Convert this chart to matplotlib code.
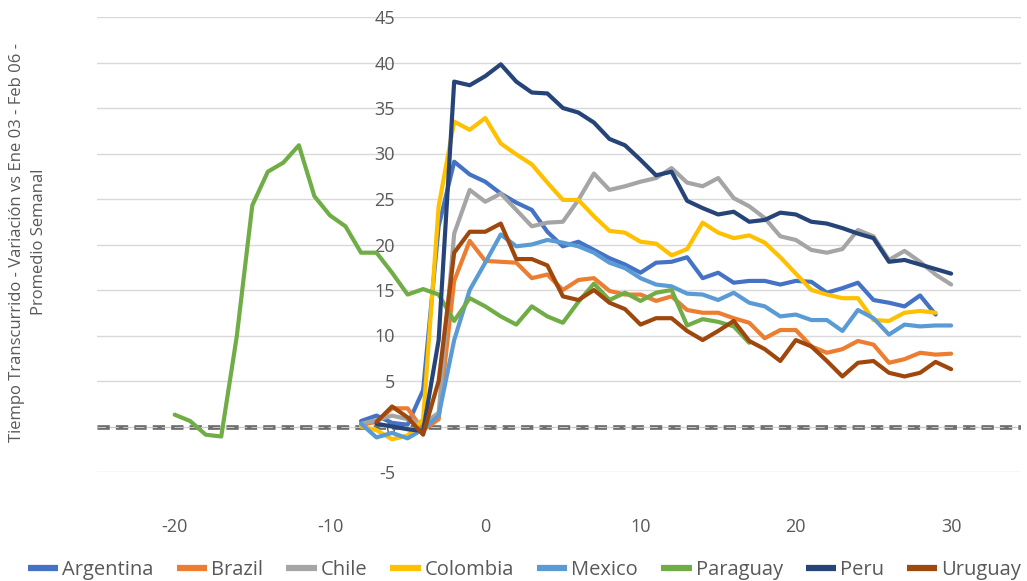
import matplotlib.pyplot as plt
import numpy as np

plt.rcParams['font.family'] = ['Open Sans', 'DejaVu Sans']
plt.rcParams['axes.unicode_minus'] = False

# weekly values, week 0 = reference week
weeks_main = list(range(-8, 31))
weeks_uy = list(range(-7, 31))
weeks_pe = list(range(-7, 31))
weeks_py = list(range(-20, 18))

argentina = [0.6, 1.2, 0.4, 0.2, 4.0, 22.0, 29.1, 27.7, 26.9, 25.6, 24.6, 23.8, 21.4,
             19.8, 20.3, 19.4, 18.5, 17.8, 16.9, 18.0, 18.1, 18.6, 16.3, 16.9, 15.8,
             16.0, 16.0, 15.6, 16.0, 15.9, 14.7, 15.2, 15.8, 13.9, 13.6, 13.2, 14.4, 12.3]
brazil = [0.2, 0.5, 2.0, 2.0, -0.4, 0.8, 16.0, 20.4, 18.2, 18.1, 18.0, 16.3, 16.7,
          15.0, 16.1, 16.3, 14.9, 14.5, 14.5, 13.8, 14.3, 12.8, 12.5, 12.5, 11.9,
          11.4, 9.7, 10.6, 10.6, 8.8, 8.1, 8.5, 9.4, 9.0, 7.0, 7.4, 8.1, 7.9, 8.0]
chile = [0.3, 0.7, 1.2, 0.8, 0.3, 1.5, 21.2, 26.0, 24.7, 25.6, 23.8, 22.0, 22.4,
         22.5, 24.9, 27.8, 26.0, 26.4, 26.9, 27.3, 28.4, 26.8, 26.4, 27.3, 25.1,
         24.2, 22.9, 20.9, 20.5, 19.4, 19.1, 19.5, 21.6, 20.9, 18.3, 19.3, 18.1,
         16.7, 15.6]
colombia = [0.0, -0.4, -1.4, -1.0, 0.8, 24.2, 33.5, 32.6, 33.9, 31.1, 29.9, 28.8,
            26.8, 24.9, 24.9, 23.1, 21.5, 21.3, 20.3, 20.1, 18.8, 19.5, 22.4, 21.3,
            20.7, 21.0, 20.2, 18.6, 16.8, 15.0, 14.5, 14.1, 14.1, 11.7, 11.6, 12.5,
            12.7, 12.5]
mexico = [0.3, -1.2, -0.7, -1.3, -0.3, 1.2, 9.5, 15.0, 18.0, 21.1, 19.8, 20.0, 20.5,
          20.2, 19.8, 19.1, 18.0, 17.4, 16.3, 15.6, 15.4, 14.6, 14.5, 13.9, 14.7,
          13.6, 13.2, 12.1, 12.3, 11.7, 11.7, 10.5, 12.8, 11.9, 10.1, 11.2, 11.0,
          11.1, 11.1]
paraguay = [1.3, 0.6, -0.9, -1.1, 9.9, 24.3, 28.0, 29.0, 30.9, 25.3, 23.2, 22.0,
            19.1, 19.1, 16.9, 14.5, 15.1, 14.5, 11.6, 14.1, 13.2, 12.1, 11.2, 13.2,
            12.1, 11.4, 13.7, 15.7, 13.9, 14.7, 13.8, 14.7, 15.0, 11.1, 11.8, 11.5,
            11.0, 9.2]
peru = [0.3, 0.0, -0.3, -0.5, 9.5, 37.9, 37.5, 38.5, 39.8, 37.9, 36.7, 36.6, 35.0,
        34.5, 33.4, 31.6, 30.9, 29.3, 27.6, 28.0, 24.8, 24.0, 23.3, 23.6, 22.5,
        22.7, 23.5, 23.3, 22.5, 22.3, 21.8, 21.2, 20.7, 18.1, 18.3, 17.8, 17.3, 16.8]
uruguay = [0.5, 2.2, 1.0, -0.9, 5.0, 19.1, 21.4, 21.4, 22.3, 18.4, 18.4, 17.7, 14.3,
           13.9, 15.0, 13.6, 12.9, 11.2, 11.9, 11.9, 10.5, 9.5, 10.5, 11.6, 9.4,
           8.5, 7.2, 9.5, 8.8, 7.2, 5.5, 7.0, 7.2, 5.9, 5.5, 5.9, 7.1, 6.3]

series = [
    ('Argentina', weeks_main[:len(argentina)], argentina, '#4472C4'),
    ('Brazil', weeks_main, brazil, '#ED7D31'),
    ('Chile', weeks_main, chile, '#A5A5A5'),
    ('Colombia', weeks_main[:len(colombia)], colombia, '#FFC000'),
    ('Mexico', weeks_main, mexico, '#5B9BD5'),
    ('Paraguay', weeks_py, paraguay, '#70AD47'),
    ('Peru', weeks_pe, peru, '#264478'),
    ('Uruguay', weeks_uy, uruguay, '#9E480E'),
]

fig = plt.figure(figsize=(10.27, 5.81), dpi=100)
ax = fig.add_axes([97 / 1027, 1 - 472 / 581, 924 / 1027, 455 / 581])

for name, xs, ys, color in series:
    ax.plot(xs, ys, color=color, lw=3.0, label=name, solid_capstyle='round',
            solid_joinstyle='round', zorder=3)

# baseline at zero: thick gray dashes with a lighter core
ax.axhline(0, color='#6f6f6f', lw=3.4, dashes=(2.6, 1.3), zorder=2)
ax.axhline(0, color='#c8c8c8', lw=0.7, dashes=(8.8, 4.4), zorder=2.1)

ax.set_xlim(-25, 34.5)
ax.set_ylim(-5, 45)
ax.set_yticks(np.arange(-5, 46, 5))
ax.set_xticks([-20, -10, 0, 10, 20, 30])
ax.yaxis.grid(True, color='#D9D9D9', lw=1.0)
ax.set_axisbelow(True)

for side in ['top', 'right', 'bottom']:
    ax.spines[side].set_visible(False)
ax.spines['left'].set_position(('data', -5))
ax.spines['left'].set_color('none')

ax.tick_params(axis='y', length=0, pad=9, labelsize=13, labelcolor='#595959')
ax.tick_params(axis='x', length=0, pad=33, labelsize=13, labelcolor='#595959')

fig.text(28 / 1027, 1 - 242 / 581,
         'Tiempo Transcurrido - Variación vs Ene 03 - Feb 06 -\nPromedio Semanal',
         rotation=90, ha='center', va='center', fontsize=12, color='#595959',
         linespacing=1.45, multialignment='center')

leg = fig.legend(loc='center', bbox_to_anchor=(0.511, 1 - 570 / 581), ncol=8,
                 frameon=False, fontsize=14.5, handlelength=1.5, handletextpad=0.2,
                 columnspacing=1.15, labelcolor='#595959', borderpad=0)
for line in leg.get_lines():
    line.set_linewidth(4.5)
    line.set_solid_capstyle('butt')

fig.savefig('out.png', dpi=100)
